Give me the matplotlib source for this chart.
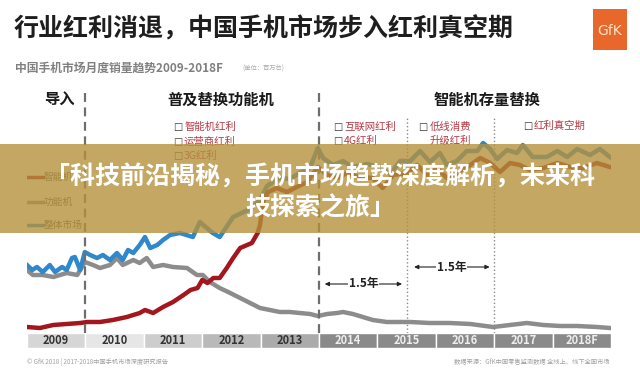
import matplotlib
matplotlib.use('Agg')
import matplotlib.pyplot as plt
from matplotlib.patches import Rectangle

plt.rcParams['font.family'] = ['Noto Sans CJK SC', 'DejaVu Sans']

# 月度销量 (百万台, 读图估计)
total_x = [2009.00, 2009.09, 2009.17, 2009.27, 2009.39, 2009.48, 2009.60, 2009.68, 2009.77, 2009.82, 2009.91, 2009.99,
           2010.08, 2010.20, 2010.30, 2010.42, 2010.54, 2010.64, 2010.73, 2010.82, 2010.93,
           2011.02, 2011.11, 2011.23, 2011.33, 2011.45, 2011.62, 2011.84, 2011.96,
           2012.18, 2012.30, 2012.53, 2012.82, 2012.99,
           2013.11, 2013.21, 2013.33, 2013.50, 2013.67, 2013.85, 2013.98,
           2014.07, 2014.24, 2014.41, 2014.58, 2014.82,
           2015.04, 2015.22, 2015.39, 2015.56, 2015.73, 2015.90,
           2016.07, 2016.19, 2016.36, 2016.53, 2016.71, 2016.81, 2016.93,
           2017.05, 2017.22, 2017.39, 2017.49, 2017.66, 2017.90,
           2018.08, 2018.25, 2018.42, 2018.64, 2018.81, 2018.98]
total_y = [17.0, 15.75, 16.5, 15.25, 17.0, 15.25, 16.5, 15.75, 18.75, 19.0, 15.75, 20.25,
           19.5, 18.75, 19.5, 18.25, 20.0, 18.25, 20.75, 20.0, 22.0,
           24.0, 21.25, 22.0, 23.25, 24.5, 25.0, 24.0, 27.75,
           25.0, 24.0, 29.0, 31.0, 33.25,
           36.75, 37.75, 38.75, 38.5, 40.0, 41.5, 46.25,
           43.75, 42.0, 43.0, 41.5, 42.25,
           41.5, 39.75, 43.0, 43.0, 45.5, 42.75,
           45.0, 42.0, 43.0, 45.5, 45.5, 47.5, 46.0,
           43.5, 45.75, 45.0, 47.0, 44.0, 44.0,
           45.5, 44.0, 46.0, 44.5, 46.0, 44.0]

smart_x = [2009.00, 2009.22, 2009.45, 2009.68, 2009.91,
           2010.03, 2010.25, 2010.47, 2010.71, 2010.93,
           2011.02, 2011.16, 2011.33, 2011.50, 2011.68, 2011.80, 2011.92,
           2012.00, 2012.09, 2012.19, 2012.30, 2012.42, 2012.53, 2012.65, 2012.77, 2012.85, 2012.90, 2012.95, 2012.99,
           2013.04, 2013.13, 2013.28, 2013.45, 2013.62, 2013.80, 2013.98,
           2014.14, 2014.31, 2014.48, 2014.70, 2014.92,
           2015.09, 2015.27, 2015.51, 2015.68, 2015.85,
           2016.02, 2016.19, 2016.42, 2016.59, 2016.76, 2016.93,
           2017.10, 2017.27, 2017.44, 2017.61, 2017.84,
           2018.08, 2018.30, 2018.52, 2018.76, 2018.98]
smart_y = [1.5, 1.25, 2.0, 2.25, 2.5,
           2.75, 2.75, 3.25, 4.0, 5.0,
           5.75, 5.0, 6.5, 7.75, 9.5, 10.75, 11.25,
           13.25, 12.5, 13.75, 13.75, 16.25, 18.75, 21.25, 22.0, 22.5, 23.75, 25.0, 27.0,
           32.75, 35.25, 36.25, 35.25, 36.5, 37.75, 41.5,
           39.5, 38.75, 40.0, 39.0, 38.75,
           36.25, 39.5, 40.0, 42.0, 39.5,
           41.25, 38.75, 40.25, 42.0, 43.75, 42.5,
           40.25, 42.5, 42.0, 40.75, 41.25,
           42.5, 41.5, 41.25, 42.5, 41.5]

feature_x = [2009.00, 2009.10, 2009.27, 2009.45, 2009.68, 2009.86, 2009.99,
             2010.13, 2010.25, 2010.42, 2010.54, 2010.64, 2010.82, 2010.93,
             2011.05, 2011.16, 2011.33, 2011.50, 2011.74, 2011.91,
             2012.01, 2012.13, 2012.30, 2012.48, 2012.65, 2012.82, 2012.99,
             2013.16, 2013.33, 2013.50, 2013.67, 2013.85, 2013.98,
             2014.14, 2014.31, 2014.41, 2014.58, 2014.75, 2014.92,
             2015.16, 2015.39, 2015.56, 2015.90,
             2016.24, 2016.59, 2016.98,
             2017.27, 2017.56, 2017.84,
             2018.13, 2018.42, 2018.76, 2018.98]
feature_y = [15.75, 14.5, 14.5, 14.0, 15.0, 14.5, 17.75,
             17.0, 16.25, 17.0, 18.75, 17.0, 18.25, 17.5,
             18.75, 16.5, 17.0, 16.5, 16.25, 14.5,
             14.5, 12.75, 11.25, 10.0, 8.75, 7.5, 6.25,
             5.75, 5.25, 5.25, 5.0, 4.75, 4.25,
             4.75, 5.0, 5.25, 4.75, 4.0, 3.25,
             2.75, 2.75, 2.75, 2.5,
             2.5, 2.25, 1.5,
             2.0, 2.5, 2.0,
             1.75, 1.75, 1.5, 1.25]

years = ['2009', '2010', '2011', '2012', '2013', '2014', '2015', '2016', '2017', '2018F']
year_start = [2009, 2010, 2011, 2012, 2013, 2014, 2015, 2016, 2017, 2018]
year_colors = ['#d6d6d6', '#e6e6e6', '#cdcdcd', '#b9b9b9', '#ababab',
               '#8a8a8a', '#8a8a8a', '#8a8a8a', '#8a8a8a', '#8a8a8a']
year_text = ['#333333'] * 5 + ['#eeeeee'] * 5

legend_names = ['智能机', '功能机', '整体市场']
c_smart, c_feature, c_total = '#a3161d', '#8c8c8c', '#2f88cc'
legend_colors = [c_smart, c_feature, c_total]

W, H = 640, 379
fig = plt.figure(figsize=(6.4, 3.79), dpi=100)

ax = fig.add_axes([27 / W, 1 - 333 / H, 584 / W, 248 / H])
ax.set_xlim(2009, 2019)
ax.set_ylim(0, 62)
ax.axis('off')

ax.plot(feature_x, feature_y, color=c_feature, lw=3.2, solid_joinstyle='round')
ax.plot(total_x, total_y, color=c_total, lw=3.2, solid_joinstyle='round')
ax.plot(smart_x, smart_y, color=c_smart, lw=3.2, solid_joinstyle='round')

# 阶段分隔线
for xv in [2010, 2014]:
    ax.axvline(xv, ymin=0, ymax=0.98, color='#6e6e6e', lw=1.6, ls=(0, (4, 2.5)))
for xv in [2015.5, 2017]:
    ax.axvline(xv, ymin=0, ymax=0.87, color='#8a8a8a', lw=1, ls=':')

# 阶段标题
for xc, s in [(2009.55, '导入'), (2012.32, '普及替换功能机'), (2016.88, '智能机存量替换')]:
    ax.text(xc, 58.25, s, ha='center', va='center', fontsize=11, weight='bold', color='#1a1a1a')

items = [(2011.5, 51.5, '智能机红利'), (2011.5, 47.75, '运营商红利'), (2011.5, 44.25, '3G红利'),
         (2014.24, 51.5, '互联网红利'), (2014.24, 48.0, '4G红利'),
         (2015.7, 51.5, '低线消费'), (2017.49, 51.75, '红利真空期')]
for xi, yi, s in items:
    ax.text(xi, yi, '□', ha='left', va='center', fontsize=7, color='#333333', family='DejaVu Sans')
    ax.text(xi + 0.19, yi, s, ha='left', va='center', fontsize=7.5, color='#b23a44')
ax.text(2015.89, 48.0, '升级红利', ha='left', va='center', fontsize=7.5, color='#b23a44')

# 图例
for i, (name, col) in enumerate(zip(legend_names, legend_colors)):
    yl = [39, 32.75, 27][i]
    ax.plot([2009.02, 2009.27], [yl, yl], color=col, lw=2.5)
    ax.text(2009.29, yl, name, ha='left', va='center', fontsize=7, color='#555555')

# 1.5年
for x0, x1, yy in [(2014.05, 2015.47, 12.25), (2015.58, 2016.97, 16.5)]:
    ax.annotate('', xy=(x1, yy), xytext=(x0, yy),
                arrowprops=dict(arrowstyle='<|-|>,head_length=0.25,head_width=0.12', color='#222222', lw=0.8))
    ax.text((x0 + x1) / 2, yy, '1.5年', ha='center', va='center', fontsize=8.5, weight='bold',
            color='#222222', bbox=dict(facecolor='white', edgecolor='none', pad=0.6))

# 年份条
bx = fig.add_axes([27 / W, 1 - 348 / H, 584 / W, 15 / H])
bx.set_xlim(2009, 2019)
bx.set_ylim(0, 1)
bx.axis('off')
bx.bar(year_start, 1, width=1, align='edge', color=year_colors, edgecolor='white', lw=1)
for xs, lab, tc in zip(year_start, years, year_text):
    bx.text(xs + 0.5, 0.5, lab, ha='center', va='center', fontsize=8, weight='bold', color=tc)

# 标题
fig.text(14 / W, 1 - 29 / H, '行业红利消退，中国手机市场步入红利真空期', fontsize=18, weight='bold',
         color='#1e1e1e', va='center', ha='left')
fig.text(15 / W, 1 - 68 / H, '中国手机市场月度销量趋势2009-2018F', fontsize=8.5, weight='bold',
         color='#808080', va='center', ha='left')
fig.text(242 / W, 1 - 69 / H, '(单位：百万台)', fontsize=4.5, color='#aaaaaa', va='center', ha='left')

# GfK 标志
fig.patches.append(Rectangle((593 / W, 1 - 50 / H), 34 / W, 41 / H, transform=fig.transFigure,
                             facecolor='#e8672a', edgecolor='none'))
fig.text(610 / W, 1 - 31 / H, 'GfK', fontsize=10, color='#fbe3c8', ha='center', va='center',
         family='DejaVu Sans')

# 脚注
fig.text(27 / W, 1 - 362 / H, '© GfK 2018 | 2017-2018中国手机市场深度研究报告', fontsize=4.5,
         color='#a0a0a0', va='center', ha='left')
fig.text(610 / W, 1 - 362 / H, '数据来源：GfK中国零售监测数据 全线上、线下全国市场', fontsize=4.5,
         color='#a0a0a0', va='center', ha='right')

# 横幅
fig.patches.append(Rectangle((0, 1 - 233 / H), 1, 89 / H, transform=fig.transFigure,
                             facecolor='#b4913c', edgecolor='none', alpha=0.8, zorder=10))
fig.text(0.5, 1 - 177 / H, '「科技前沿揭秘，手机市场趋势深度解析，未来科', fontsize=18, weight='bold',
         color='white', ha='center', va='center', zorder=11)
fig.text(0.5, 1 - 208 / H, '技探索之旅」', fontsize=18, weight='bold',
         color='white', ha='center', va='center', zorder=11)

fig.savefig('out.png', dpi=100, facecolor='white')
